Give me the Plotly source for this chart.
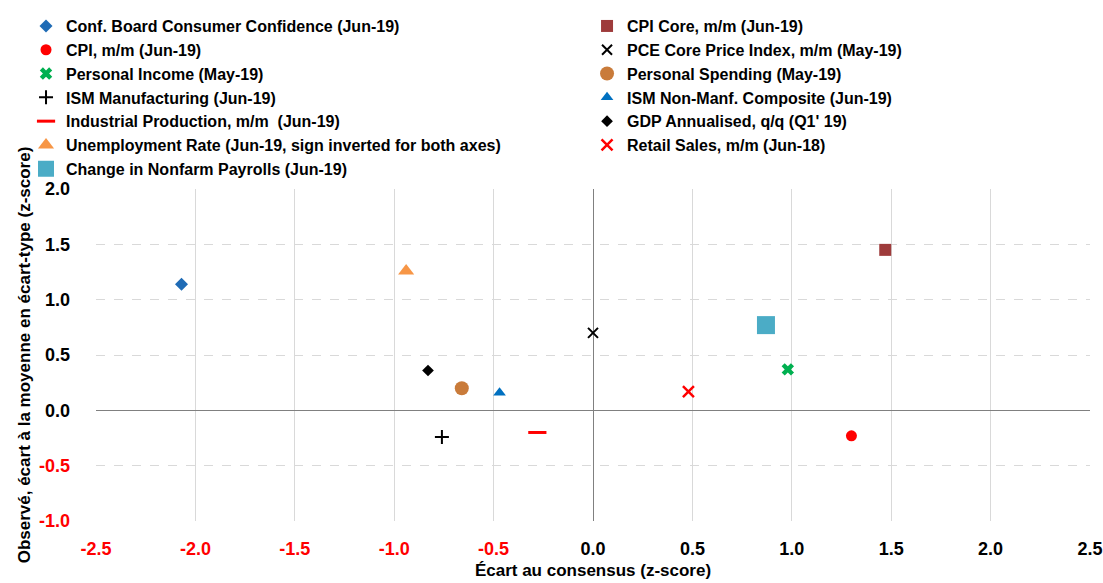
import plotly.graph_objects as go

# ---- data ----
names = [
    "Conf. Board Consumer Confidence (Jun-19)",
    "CPI Core, m/m (Jun-19)",
    "CPI, m/m (Jun-19)",
    "PCE Core Price Index, m/m (May-19)",
    "Personal Income (May-19)",
    "Personal Spending (May-19)",
    "ISM Manufacturing (Jun-19)",
    "ISM Non-Manf. Composite (Jun-19)",
    "Industrial Production, m/m  (Jun-19)",
    "GDP Annualised, q/q (Q1' 19)",
    "Unemployment Rate (Jun-19, sign inverted for both axes)",
    "Retail Sales, m/m (Jun-18)",
    "Change in Nonfarm Payrolls (Jun-19)",
]
x_surprise = [-2.07, 1.47, 1.30, 0.00, 0.98, -0.66, -0.76, -0.47, -0.28, -0.83, -0.94, 0.48, 0.87]
y_observed = [1.14, 1.45, -0.23, 0.70, 0.37, 0.20, -0.24, 0.16, -0.20, 0.36, 1.26, 0.17, 0.77]
legend_column = ["legend", "legend2", "legend", "legend2", "legend", "legend2", "legend",
                 "legend2", "legend", "legend2", "legend", "legend2", "legend"]

symbols = ["diamond", "square", "circle", "x-thin", "x", "circle", "cross-thin",
           "triangle-up", "line-ew", "diamond", "triangle-up", "x-thin", "square"]
colors = ["#1F6BB5", "#9E3B3B", "#FF0000", "#000000", "#00B050", "#C97B3A", "#000000",
          "#0070C0", "#FF0000", "#000000", "#F79646", "#FF0000", "#4BACC6"]
sizes = [10, 12, 11, 10, 11, 14, 10, 11, 13, 9, 14, 11, 18]
line_widths = [0, 0, 0, 2, 0, 0, 2, 0, 3, 0, 0, 2.5, 0]

tick_vals_x = [-2.5, -2.0, -1.5, -1.0, -0.5, 0.0, 0.5, 1.0, 1.5, 2.0, 2.5]
tick_vals_y = [-1.0, -0.5, 0.0, 0.5, 1.0, 1.5, 2.0]


def fmt(v):
    s = f"{v:.1f}"
    if v < 0:
        return f"<span style='color:#FF0000'>{s}</span>"
    return s


FONT = "Liberation Sans, Arial, sans-serif"

fig = go.Figure()
for i, n in enumerate(names):
    open_line = symbols[i] in ("x-thin", "cross-thin", "line-ew")
    marker = dict(symbol=symbols[i], size=sizes[i], color=colors[i])
    if open_line:
        marker["line"] = dict(color=colors[i], width=line_widths[i])
    else:
        marker["line"] = dict(width=0)
    fig.add_trace(go.Scatter(
        x=[x_surprise[i]], y=[y_observed[i]], mode="markers", name=n,
        marker=marker, legend=legend_column[i],
    ))

legend_font = dict(family=FONT, size=16, color="#000000", weight="bold")
fig.update_layout(
    width=1103, height=583,
    paper_bgcolor="white", plot_bgcolor="white",
    margin=dict(l=96, r=13, t=189, b=62, autoexpand=False),
    font=dict(family=FONT, size=16, color="#000000"),
    showlegend=True,
    legend=dict(
        orientation="v", x=-0.0704, xanchor="left", y=1.542, yanchor="top",
        font=legend_font, itemwidth=30, bgcolor="rgba(0,0,0,0)", tracegroupgap=0,
    ),
    legend2=dict(
        orientation="v", x=0.494, xanchor="left", y=1.542, yanchor="top",
        font=legend_font, itemwidth=30, bgcolor="rgba(0,0,0,0)", tracegroupgap=0,
    ),
    xaxis=dict(
        range=[-2.5, 2.5], tickvals=tick_vals_x, ticktext=[fmt(v) for v in tick_vals_x],
        showgrid=True, gridcolor="#D9D9D9", gridwidth=1,
        zeroline=True, zerolinecolor="#808080", zerolinewidth=1,
        showline=False, ticks="", ticklabelstandoff=15, automargin=False,
        tickfont=dict(family=FONT, size=18, weight="bold"),
        title=dict(text="<b>Écart au consensus (z-score)</b>", standoff=6,
                   font=dict(family=FONT, size=17)),
    ),
    yaxis=dict(
        range=[-1.0, 2.0], tickvals=tick_vals_y, ticktext=[fmt(v) for v in tick_vals_y],
        showgrid=True, gridcolor="#D9D9D9", gridwidth=1, griddash="dash",
        zeroline=True, zerolinecolor="#808080", zerolinewidth=1,
        showline=False, ticks="", ticklabelstandoff=25, automargin=False,
        tickfont=dict(family=FONT, size=18, weight="bold"),
        title=dict(text="<b>Observé, écart à la moyenne en écart-type (z-score)</b>", standoff=4,
                   font=dict(family=FONT, size=17)),
    ),
)

fig.write_html("out.html", config={"displayModeBar": False},
               post_script="document.body.style.margin='0px';document.body.style.overflow='hidden';")
